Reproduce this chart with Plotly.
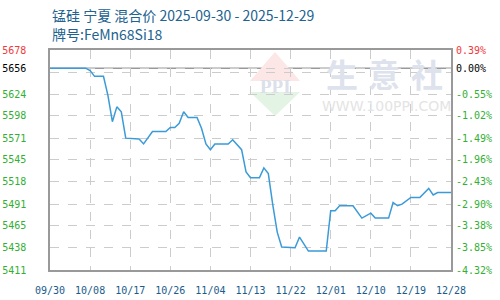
import plotly.graph_objects as go

# ---- data (day index from 09/30, price) ----
x_idx = [0, 8, 9, 10, 12, 13, 14, 15, 16, 17, 20, 21, 23, 26, 27, 28, 29, 30, 31, 33,
         34, 35, 36, 37, 40, 41, 43, 44, 45, 47, 48, 49, 50, 51, 52, 55, 56, 58, 62, 63,
         64, 65, 68, 70, 72, 73, 76, 77, 78, 79, 81, 83, 85, 86, 87, 90]
price = [5656, 5656, 5653, 5646, 5646, 5623, 5591, 5609, 5603, 5571, 5570, 5564, 5579, 5579, 5584, 5584, 5589, 5603, 5596, 5596,
         5583, 5564, 5557, 5564, 5564, 5569, 5557, 5530, 5523, 5523, 5535, 5528, 5490, 5457, 5439, 5438, 5451, 5434, 5434, 5483,
         5483, 5489, 5489, 5474, 5480, 5474, 5474, 5493, 5489, 5491, 5499, 5499, 5510, 5502, 5505, 5505]

x_tick_pos = [0, 9, 18, 27, 36, 45, 54, 63, 72, 81, 90]
x_tick_text = ["09/30", "10/08", "10/17", "10/26", "11/04", "11/13", "11/22", "12/01", "12/10", "12/19", "12/28"]

y_ticks = [5411, 5438, 5465, 5491, 5518, 5545, 5571, 5598, 5624, 5651, 5656, 5678]
y_left_text = ["5411", "5438", "5465", "5491", "5518", "5545", "5571", "5598", "5624", "", "5656", "5678"]
y_right_text = ["-4.32%", "-3.85%", "-3.38%", "-2.90%", "-2.43%", "-1.96%", "-1.49%", "-1.02%", "-0.55%", "", "0.00%", "0.39%"]
base_price = 5656
y_min, y_max = 5411, 5678

title1 = "锰硅 宁夏 混合价 2025-09-30 - 2025-12-29"
title2 = "牌号:FeMn68Si18"

GREEN = "#33b033"
RED = "#f03a3a"
BLACK = "#000000"


def colorize(texts, vals):
    out = []
    for t, v in zip(texts, vals):
        if t == "":
            out.append("")
        elif v == y_max:
            out.append(f"<span style='color:{RED}'>{t}</span>")
        elif v == base_price:
            out.append(f"<span style='color:{BLACK}'>{t}</span>")
        else:
            out.append(f"<span style='color:{GREEN}'>{t}</span>")
    return out


fig = go.Figure()
fig.add_trace(go.Scatter(x=x_idx, y=price, mode="lines",
                         line=dict(color="#3a9bd8", width=1.5), showlegend=False))
fig.add_trace(go.Scatter(x=[x_idx[0]], y=[price[0]], yaxis="y2", mode="markers",
                         marker=dict(opacity=0), showlegend=False, hoverinfo="skip"))

W, H = 500, 300
ml, mr, mt, mb = 50, 49, 50, 30
pw, ph = W - ml - mr, H - mt - mb


def px(x):
    return (x - ml) / pw


def py(y):
    return (H - mb - y) / ph


mono = "DejaVu Sans Mono"
fig.update_layout(
    width=W, height=H,
    margin=dict(l=ml, r=mr, t=mt, b=mb, autoexpand=False),
    paper_bgcolor="white", plot_bgcolor="white",
    xaxis=dict(range=[0, 90], tickvals=x_tick_pos, ticktext=x_tick_text, automargin=False,
               showgrid=True, gridcolor="#cccccc", griddash="dash", gridwidth=1,
               showline=True, linecolor="#999999", linewidth=1.5, mirror=True,
               ticks="", ticklabelstandoff=10,
               tickfont=dict(family=mono, size=10, color="#1a5c8c"), zeroline=False),
    yaxis=dict(range=[y_min, y_max], tickvals=y_ticks, ticktext=colorize(y_left_text, y_ticks),
               automargin=False,
               showgrid=True, gridcolor="#cccccc", griddash="dash", gridwidth=1,
               showline=True, linecolor="#999999", linewidth=1.5, mirror=True,
               ticks="", ticklabelstandoff=20,
               tickfont=dict(family=mono, size=10, color=GREEN), zeroline=False),
    yaxis2=dict(range=[y_min, y_max], overlaying="y", side="right", automargin=False,
                tickvals=y_ticks, ticktext=colorize(y_right_text, y_ticks),
                showgrid=False, showline=False, ticks="", ticklabelstandoff=4,
                tickfont=dict(family=mono, size=10, color=GREEN), zeroline=False),
    shapes=[
        dict(type="line", xref="paper", x0=0, x1=1, yref="y", y0=base_price, y1=base_price,
             line=dict(color="#999999", width=1.5), layer="below"),
        # watermark diamond
        dict(type="path", xref="paper", yref="paper",
             path=f"M {px(275)} {py(52)} L {px(300)} {py(81)} L {px(250)} {py(81)} Z",
             fillcolor="#fce6e6", line=dict(width=0), layer="below"),
        dict(type="path", xref="paper", yref="paper",
             path=f"M {px(250)} {py(92)} L {px(300)} {py(92)} L {px(275)} {py(116)} Z",
             fillcolor="#e3f4e5", line=dict(width=0), layer="below"),
    ],
    annotations=[
        dict(text=title1, xref="paper", yref="paper", x=0, y=py(14.5), xanchor="left", yanchor="middle",
             showarrow=False, font=dict(family="Noto Sans CJK SC", size=14, color="#22628f")),
        dict(text=title2, xref="paper", yref="paper", x=0, y=py(34), xanchor="left", yanchor="middle",
             showarrow=False, font=dict(family="Noto Sans CJK SC", size=14, color="#22628f")),
        dict(text="<b>PPI</b>", xref="paper", yref="paper", x=px(275), y=py(86), xanchor="center", yanchor="middle",
             showarrow=False, font=dict(family="Liberation Serif", size=19, color="#dbe0ea")),
        dict(text="<b>生</b>", xref="paper", yref="paper", x=px(342), y=py(73), xanchor="center", yanchor="middle",
             showarrow=False, font=dict(family="Noto Sans CJK SC", size=32, color="#dde2ec")),
        dict(text="<b>意</b>", xref="paper", yref="paper", x=px(384), y=py(73), xanchor="center", yanchor="middle",
             showarrow=False, font=dict(family="Noto Sans CJK SC", size=32, color="#dde2ec")),
        dict(text="<b>社</b>", xref="paper", yref="paper", x=px(427), y=py(73), xanchor="center", yanchor="middle",
             showarrow=False, font=dict(family="Noto Sans CJK SC", size=32, color="#dde2ec")),
        dict(text="WWW.100PPI.COM", xref="paper", yref="paper", x=px(386), y=py(106), xanchor="center", yanchor="middle",
             showarrow=False, font=dict(family="DejaVu Sans", size=14, color="#e4e4e4")),
    ],
)

fig.write_html("out.html")
